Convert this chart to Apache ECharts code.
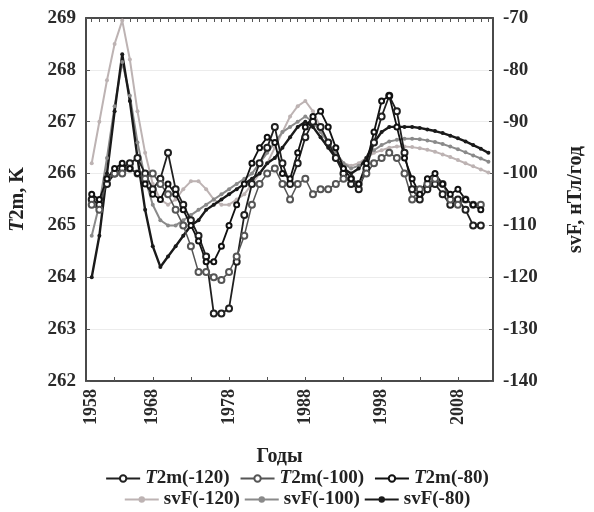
<!DOCTYPE html>
<html>
<head>
<meta charset="utf-8">
<script src="https://cdn.jsdelivr.net/npm/echarts@6/dist/echarts.min.js"></script>
<style>html,body{margin:0;padding:0;background:#fff}#c{width:594px;height:512px}</style>
</head>
<body>
<div id="c"></div>
<script>
// ---- data ----
var yearsT = []; for (var y = 1960; y <= 2011; y++) yearsT.push(y);
var yearsS = []; for (var y2 = 1960; y2 <= 2012; y2++) yearsS.push(y2);

var t2m120 = [265.5,265.4,265.8,266.0,266.1,266.2,266.3,266.0,265.7,265.9,
              266.4,265.7,265.4,265.1,264.8,264.4,263.3,263.3,263.4,264.3,
              265.2,265.8,266.2,266.5,266.9,266.2,265.8,266.2,266.7,267.0,
              266.9,266.6,266.3,266.0,265.8,265.7,266.1,266.6,267.1,267.5,
              267.2,266.4,265.7,265.5,265.7,265.8,265.6,265.4,265.5,265.3,
              265.0,265.0];
var t2m100 = [265.4,265.3,265.9,266.0,266.0,266.1,266.0,265.9,266.0,265.8,
              265.6,265.3,265.0,264.6,264.1,264.1,264.0,263.95,264.1,264.4,
              264.8,265.4,265.8,266.0,266.1,265.8,265.5,265.8,265.9,265.6,
              265.7,265.7,265.8,265.9,265.9,265.8,266.0,266.2,266.3,266.4,
              266.3,266.0,265.5,265.7,265.8,265.9,265.8,265.5,265.4,265.5,
              265.4,265.4];
var t2m80  = [265.6,265.5,265.9,266.1,266.2,266.1,266.0,265.8,265.6,265.5,
              265.8,265.6,265.3,265.0,264.7,264.3,264.3,264.6,265.0,265.4,
              265.8,266.2,266.5,266.7,266.6,266.0,265.9,266.4,266.9,267.1,
              267.2,266.9,266.5,266.1,265.9,265.8,266.2,266.8,267.4,267.5,
              266.9,266.3,265.9,265.6,265.9,266.0,265.8,265.6,265.7,265.5,
              265.4,265.3];
var svf120 = [-98,-90,-82,-75,-70.5,-78,-88,-96,-102,-105,
              -106,-105,-103,-101.5,-101.5,-103,-105,-106,-106,-105,
              -104,-102,-100,-98,-95,-92,-89,-87,-86,-88,
              -91,-94,-96,-98,-98.5,-98,-97,-96,-95.5,-95,
              -94.8,-94.8,-94.9,-95.1,-95.4,-95.8,-96.3,-96.8,-97.4,-98,
              -98.6,-99.2,-99.8];
var svf100 = [-112,-106,-97,-87,-78.5,-85,-94,-101,-106,-109,
              -110,-110,-109,-108,-107,-106,-105,-104,-103,-102,
              -101,-100,-98,-96,-94,-92,-91,-90,-89,-90,
              -92,-94,-96,-98,-99,-98.5,-97,-95.5,-94.5,-93.8,
              -93.5,-93.3,-93.3,-93.4,-93.6,-93.9,-94.3,-94.8,-95.3,-95.9,
              -96.5,-97.1,-97.7];
var svf80  = [-120,-112,-100,-88,-77,-86,-97,-107,-114,-118,
              -116,-114,-112,-110,-109,-107,-106,-105,-104,-103,
              -102,-101,-100,-98,-97,-95,-93,-91,-90,-91,
              -93,-95,-97,-99,-100,-99,-97,-94,-92,-91,
              -91,-91,-91,-91.2,-91.5,-91.8,-92.2,-92.7,-93.2,-93.8,
              -94.5,-95.2,-96];

var tickYears  = [1960,1968,1978,1988,1998,2008];
var tickLabels = ['1958','1968','1978','1988','1998','2008'];
var minorTicks = [1963,1968,1973,1978,1983,1988,1993,1998,2003,2008];
var topTicks = []; for (var k = 1960; k <= 2012; k++) topTicks.push(k);

var namesT = ['T2m(-120)','T2m(-100)','T2m(-80)'];
var namesS = ['svF(-120)','svF(-100)','svF(-80)'];

function pairs(xs, vs){ return vs.map(function(v,i){ return [xs[i], v]; }); }

var FONT = 'Liberation Serif';
var chart = echarts.init(document.getElementById('c'), null, {renderer:'canvas'});
var axisLineStyle = {color:'#4a4a4a', width:2};
var lblStyle = {fontFamily:FONT, fontWeight:'bold', fontSize:19, color:'#2a2a2a'};

function tSeries(name, data, color, size, lw){
  return {name:name, type:'line', xAxisIndex:0, yAxisIndex:0, data:pairs(yearsT,data),
    symbol:'emptyCircle', symbolSize:size, showSymbol:true,
    lineStyle:{color:color, width:lw}, itemStyle:{color:color, borderColor:color, borderWidth:1.3},
    emphasis:{disabled:true}, z:3};
}
function sSeries(name, data, color, size, lw){
  return {name:name, type:'line', xAxisIndex:0, yAxisIndex:1, data:pairs(yearsS,data),
    symbol:'circle', symbolSize:size, showSymbol:true,
    lineStyle:{color:color, width:lw}, itemStyle:{color:color},
    emphasis:{disabled:true}, z:2};
}

var legendText = {fontFamily:FONT, fontWeight:'bold', fontSize:19, color:'#222',
  rich:{it:{fontFamily:FONT, fontWeight:'bold', fontStyle:'italic', fontSize:19, color:'#222'},
        n:{fontFamily:FONT, fontWeight:'bold', fontSize:19, color:'#222'}}};

chart.setOption({
  animation:false,
  backgroundColor:'#fff',
  grid:{left:85, top:18, width:427, height:363, containLabel:false},
  xAxis:[{
    type:'value', min:1959.25, max:2012.6, position:'bottom',
    name:'Годы', nameLocation:'middle', nameGap:66,
    nameTextStyle:{fontFamily:FONT, fontWeight:'bold', fontSize:20, color:'#222', padding:[0,20,0,0]},
    axisLine:{show:true, lineStyle:axisLineStyle},
    axisTick:{show:true, inside:true, length:4, customValues:minorTicks, lineStyle:{color:'#555'}},
    axisLabel:{show:true, rotate:90, margin:8, customValues:tickYears,
      fontFamily:FONT, fontWeight:'bold', fontSize:18, color:'#2a2a2a',
      formatter:function(v){ var i = tickYears.indexOf(Math.round(v)); return i>=0 ? tickLabels[i] : ''; }},
    splitLine:{show:false}
  },{
    type:'value', min:1959.25, max:2012.6, position:'top',
    axisLine:{show:true, lineStyle:axisLineStyle},
    axisTick:{show:true, inside:true, length:4, customValues:topTicks, lineStyle:{color:'#555'}},
    axisLabel:{show:false}, splitLine:{show:false}
  }],
  yAxis:[{
    type:'value', min:262, max:269, interval:1, position:'left',
    name:'{it|T}{n|2m, K}', nameLocation:'middle', nameGap:58, nameRotate:90,
    nameTextStyle:{fontFamily:FONT, fontWeight:'bold', fontSize:20, color:'#222',
      rich:{it:{fontFamily:FONT, fontWeight:'bold', fontStyle:'italic', fontSize:20, color:'#222'},
            n:{fontFamily:FONT, fontWeight:'bold', fontSize:20, color:'#222'}}},
    axisLine:{show:true, lineStyle:axisLineStyle},
    axisTick:{show:true, inside:true, length:4, lineStyle:{color:'#555'}},
    axisLabel:Object.assign({margin:10}, lblStyle),
    splitLine:{show:true, lineStyle:{color:'#ececec', width:1}}
  },{
    type:'value', min:-140, max:-70, interval:10, position:'right',
    name:'svF, нТл/год', nameLocation:'middle', nameGap:73, nameRotate:90,
    nameTextStyle:{fontFamily:FONT, fontWeight:'bold', fontSize:20, color:'#222'},
    axisLine:{show:true, lineStyle:axisLineStyle},
    axisTick:{show:true, inside:true, length:4, lineStyle:{color:'#555'}},
    axisLabel:Object.assign({margin:10}, lblStyle),
    splitLine:{show:false}
  }],
  legend:[{
    data:namesT, top:464, left:'center', itemGap:10, itemWidth:34, itemHeight:8,
    textStyle:legendText,
    formatter:function(n){ return '{it|T}{n|' + n.slice(1) + '}'; }
  },{
    data:namesS, top:485, left:'center', itemGap:4, itemWidth:34, itemHeight:8,
    textStyle:legendText
  }],
  series:[
    sSeries(namesS[0], svf120, '#bdb3b3', 4, 2),
    sSeries(namesS[1], svf100, '#8a8a8a', 4, 2),
    sSeries(namesS[2], svf80,  '#1a1a1a', 4, 2.4),
    tSeries(namesT[0], t2m120, '#202020', 6, 1.8),
    tSeries(namesT[1], t2m100, '#555555', 6, 1.5),
    tSeries(namesT[2], t2m80,  '#111111', 5, 1.8)
  ]
});
</script>
</body>
</html>
